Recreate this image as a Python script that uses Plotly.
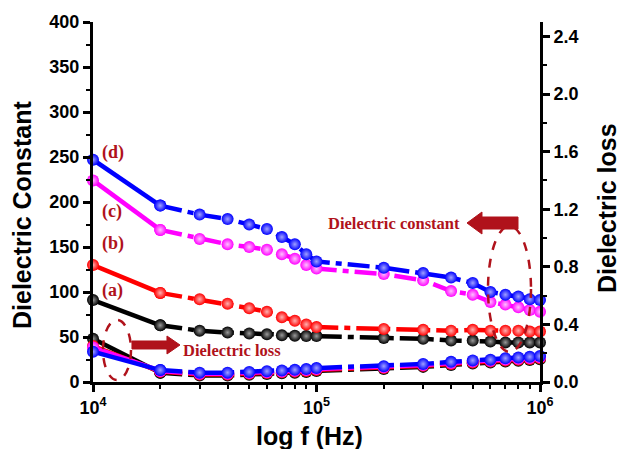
import math
import plotly.graph_objects as go

# ---------------- data ----------------
freq = [1e4, 2e4, 3e4, 4e4, 5e4, 6e4, 7e4, 8e4, 9e4,
        1e5, 2e5, 3e5, 4e5, 5e5, 6e5, 7e5, 8e5, 9e5, 1e6]

const_a = [91, 63, 57, 55, 54, 53, 52, 51.5, 51, 51, 49, 48, 46, 46, 45, 44, 44, 44, 44]
const_b = [130, 99, 92, 87, 82, 78, 72, 68, 64, 61, 59, 58, 57, 58, 57, 57, 57, 56, 56]
const_c = [224, 169, 159, 153, 150, 147, 142, 137, 130, 126, 120, 113, 101, 97, 89, 86, 83, 80, 78]
const_d = [247, 196, 186, 181, 175, 170, 161, 153, 142, 134, 127, 121, 116, 110, 100, 97, 95, 92, 91]

loss_a = [0.30, 0.065, 0.045, 0.045, 0.05, 0.055, 0.06, 0.065, 0.07, 0.077, 0.09, 0.105, 0.118, 0.128, 0.135, 0.143, 0.148, 0.153, 0.158]
loss_b = [0.25, 0.072, 0.052, 0.052, 0.057, 0.062, 0.067, 0.072, 0.077, 0.084, 0.097, 0.112, 0.125, 0.135, 0.142, 0.15, 0.155, 0.16, 0.165]
loss_c = [0.24, 0.077, 0.058, 0.058, 0.063, 0.068, 0.073, 0.078, 0.083, 0.09, 0.103, 0.118, 0.132, 0.142, 0.148, 0.157, 0.162, 0.167, 0.172]
loss_d = [0.21, 0.083, 0.065, 0.065, 0.07, 0.075, 0.08, 0.085, 0.09, 0.097, 0.11, 0.125, 0.14, 0.15, 0.155, 0.165, 0.17, 0.175, 0.18]

series_labels = ["(a)", "(b)", "(c)", "(d)"]
x_tick_vals = [1e4, 1e5, 1e6]
x_tick_labels = ["10<sup>4</sup>", "10<sup>5</sup>", "10<sup>6</sup>"]
y2_tick_vals = [0.0, 0.4, 0.8, 1.2, 1.6, 2.0, 2.4]
y2_tick_labels = ["0.0", "0.4", "0.8", "1.2", "1.6", "2.0", "2.4"]

# ---------------- styles ----------------
colors = ["#000000", "#ff0000", "#ff00ff", "#0000ff"]
highlights = ["#9a9a9a", "#ffb0b0", "#ffc0ff", "#a0a0ff"]
DARKRED = "#b0121b"
LW = 4.5
MS = 12
DASH = "22px,6px,6px,6px"

fig = go.Figure()


def add_curve(yvals, color, hl, axis):
    # solid first segment
    fig.add_trace(go.Scatter(
        x=freq[:2], y=yvals[:2], mode="lines+markers", yaxis=axis,
        line=dict(color=color, width=LW),
        marker=dict(size=MS, color=color, gradient=dict(type="radial", color=hl)),
        cliponaxis=False, showlegend=False, hoverinfo="skip"))
    # dash-dot remainder
    fig.add_trace(go.Scatter(
        x=freq[1:], y=yvals[1:], mode="lines+markers", yaxis=axis,
        line=dict(color=color, width=LW, dash=DASH),
        marker=dict(size=MS, color=color, gradient=dict(type="radial", color=hl)),
        cliponaxis=False, showlegend=False, hoverinfo="skip"))


losses = [loss_a, loss_b, loss_c, loss_d]
consts = [const_a, const_b, const_c, const_d]
for ys, c, h in zip(losses, colors, highlights):
    add_curve(ys, c, h, "y2")
for ys, c, h in zip(consts, colors, highlights):
    add_curve(ys, c, h, "y")

# ---------------- helpers for decoration placement ----------------
L, R, T, B = 93, 540, 22, 382


def px(x):
    return (x - L) / (R - L)


def py(y):
    return (B - y) / (B - T)


shapes = []
# ellipses
shapes.append(dict(type="circle", xref="paper", yref="paper",
                   x0=px(103), x1=px(131), y0=py(380), y1=py(320),
                   line=dict(color=DARKRED, width=2.5, dash="dash")))
shapes.append(dict(type="circle", xref="paper", yref="paper",
                   x0=px(488), x1=px(531), y0=py(352), y1=py(226),
                   line=dict(color=DARKRED, width=2.5, dash="dash")))


def poly(points):
    s = "M " + " L ".join(f"{px(a):.4f},{py(b):.4f}" for a, b in points) + " Z"
    return s


# right pointing arrow
shapes.append(dict(type="path", xref="paper", yref="paper",
                   path=poly([(132, 341), (167, 341), (167, 336), (180, 345),
                              (167, 354), (167, 349), (132, 349)]),
                   fillcolor=DARKRED, line=dict(color=DARKRED, width=1)))
# left pointing arrow
shapes.append(dict(type="path", xref="paper", yref="paper",
                   path=poly([(518, 217), (482, 217), (482, 212), (467, 223),
                              (482, 234), (482, 229), (518, 229)]),
                   fillcolor=DARKRED, line=dict(color=DARKRED, width=1)))

serif = "Liberation Serif, Times New Roman, serif"
sans = "Liberation Sans, Arial, sans-serif"

annotations = []
label_pos = [(100, 290), (100, 243), (100, 211), (100, 152)]
for lab, (x, y) in zip(series_labels, label_pos):
    annotations.append(dict(text=f"<b>{lab}</b>", xref="paper", yref="paper",
                            x=px(x), y=py(y), xanchor="left", yanchor="middle",
                            showarrow=False, font=dict(family=serif, size=18, color=DARKRED)))
annotations.append(dict(text="<b>Dielectric loss</b>", xref="paper", yref="paper",
                        x=px(181), y=py(350), xanchor="left", yanchor="middle",
                        showarrow=False, font=dict(family=serif, size=16.5, color=DARKRED)))
annotations.append(dict(text="<b>Dielectric constant</b>", xref="paper", yref="paper",
                        x=px(462), y=py(223), xanchor="right", yanchor="middle",
                        showarrow=False, font=dict(family=serif, size=16.5, color=DARKRED)))
# axis titles
annotations.append(dict(text="<b>Dielectric Constant</b>", xref="paper", yref="paper",
                        x=px(22), y=py(215), xanchor="center", yanchor="middle", textangle=-90,
                        showarrow=False, font=dict(family=sans, size=25, color="black")))
annotations.append(dict(text="<b>Dielectric loss</b>", xref="paper", yref="paper",
                        x=px(607), y=py(208), xanchor="center", yanchor="middle", textangle=-90,
                        showarrow=False, font=dict(family=sans, size=25, color="black")))
annotations.append(dict(text="<b>log f (Hz)</b>", xref="paper", yref="paper",
                        x=px(309), y=py(436), xanchor="center", yanchor="middle",
                        showarrow=False, font=dict(family=sans, size=25, color="black")))

tickfont = dict(family=sans, size=18, color="black", weight="bold")

fig.update_layout(
    width=622, height=449,
    margin=dict(l=L, r=622 - R, t=T, b=449 - B),
    paper_bgcolor="white", plot_bgcolor="white",
    shapes=shapes, annotations=annotations,
    xaxis=dict(type="log", range=[4, 6], tickvals=x_tick_vals, ticktext=x_tick_labels,
               ticks="outside", ticklen=7, tickwidth=3, tickcolor="black",
               showline=True, linewidth=3, linecolor="black", showgrid=False, zeroline=False,
               tickfont=tickfont,
               minor=dict(tickvals=[2e4, 3e4, 4e4, 5e4, 6e4, 7e4, 8e4, 9e4,
                                    2e5, 3e5, 4e5, 5e5, 6e5, 7e5, 8e5, 9e5],
                          ticks="outside", ticklen=4, tickwidth=2, tickcolor="black")),
    yaxis=dict(range=[0, 400], dtick=50, ticks="outside", ticklen=7, tickwidth=3,
               tickcolor="black", showline=True, linewidth=3, linecolor="black",
               showgrid=False, zeroline=False, tickfont=tickfont,
               minor=dict(dtick=25, ticks="outside", ticklen=4, tickwidth=2, tickcolor="black")),
    yaxis2=dict(overlaying="y", side="right", range=[0, 2.5], tickvals=y2_tick_vals,
                ticktext=y2_tick_labels, ticks="outside", ticklen=7, tickwidth=3,
                tickcolor="black", showline=True, linewidth=3, linecolor="black",
                showgrid=False, zeroline=False, tickfont=tickfont,
                minor=dict(tickvals=[0.2, 0.6, 1.0, 1.4, 1.8, 2.2], ticks="outside",
                           ticklen=4, tickwidth=2, tickcolor="black")),
)

fig.write_html(
    "out.html",
    config={"displayModeBar": False},
    post_script="document.body.style.margin='0';document.body.style.overflow='hidden';",
)
